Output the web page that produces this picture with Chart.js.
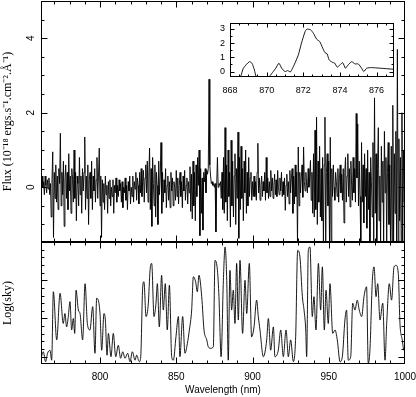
<!DOCTYPE html>
<html><head><meta charset="utf-8">
<script src="https://cdn.jsdelivr.net/npm/chart.js@4.4.0/dist/chart.umd.min.js"></script>
<style>
html,body{margin:0;padding:0;background:#fff;}
#wrap{position:relative;width:416px;height:397px;overflow:hidden;}
#main{position:absolute;left:0;top:0;}
#inset{position:absolute;left:196px;top:12px;}
</style></head><body>
<div id="wrap"><canvas id="main" width="416" height="397"></canvas><canvas id="inset" width="204" height="88"></canvas></div>
<script>
// ---------- data ----------
const fluxStart = 761, fluxStep = 0.5;   // wavelength grid of the flux spectrum (nm)
const fluxValues = [
 0.2,-0.1,0.3,0.0,0.15,-0.2,0.3,0.05,-0.15,0.2,-0.05,0.25,-0.2,0.1,-0.8,0.2,0.95,-1.35,0.4,-0.3,
 0.6,-0.4,0.3,-0.6,0.5,0.1,1.45,-0.5,0.4,-0.2,0.7,-1.05,0.2,0.6,-0.3,0.4,-0.6,0.9,-0.1,0.3,
 -0.7,0.5,0.2,-0.4,1.0,-0.3,0.4,-0.9,0.3,0.1,-0.5,0.8,-0.2,0.3,-0.7,0.5,-0.1,0.4,1.35,-0.6,
 0.3,-0.3,0.6,-1.0,0.2,0.4,-0.3,0.7,-0.6,0.3,-0.1,0.5,-0.4,0.2,0.8,-0.3,0.3,1.05,-0.5,0.3,
 -1.35,0.2,-0.4,0.1,-0.6,0.3,-0.2,0.05,-0.7,0.15,-0.3,0.2,-0.5,0.0,-0.25,0.2,-0.7,0.05,-0.15,0.25,
 -0.4,0.05,-0.25,0.2,-0.1,0.1,-0.4,0.15,-0.55,0.0,-0.15,0.25,-0.35,0.05,-0.6,0.15,-0.1,0.3,-0.45,0.0,
 -0.25,0.3,-0.4,0.15,-0.05,0.4,-0.35,0.25,0.05,-0.45,0.4,-0.15,0.5,-0.25,0.15,0.45,-0.4,0.25,0.6,-0.15,
 0.7,-0.4,0.3,1.05,-0.6,0.5,-1.05,0.8,0.1,-0.5,0.6,-0.8,0.4,0.05,-1.0,0.7,-0.2,0.3,1.2,-0.7,
 0.4,-0.4,0.2,-0.15,0.5,-0.55,0.05,0.3,-0.35,0.15,-0.55,0.4,-0.1,0.25,-0.5,0.15,0.0,-0.35,0.45,-0.25,
 0.25,-0.45,0.05,0.4,-0.25,0.15,-0.55,0.3,-0.1,0.45,-0.35,0.05,0.25,-0.45,0.15,-0.15,0.55,-0.65,0.35,-0.85,
 0.7,-0.5,0.4,-0.9,0.6,-0.25,0.8,0.05,1.0,-1.3,0.5,-0.7,0.25,-1.15,0.4,0.15,0.5,-0.15,0.45,0.35,
 0.5,2.9,0.6,0.3,0.1,0.15,0.05,0.1,0.0,0.1,-1.2,0.05,0.8,0.0,0.1,0.05,0.15,-0.3,0.4,-0.6,
 0.8,-0.7,1.6,-0.4,0.6,-0.9,1.0,-0.25,0.4,-1.07,1.26,-0.5,0.7,-0.8,0.3,0.9,-1.0,0.5,-0.3,1.48,
 -1.37,0.8,-0.6,1.1,-0.3,0.5,-0.9,0.7,-0.15,1.0,-0.7,0.4,-0.5,0.8,-0.25,0.25,0.4,-0.35,0.15,-0.25,
 0.3,-0.25,0.15,-0.35,0.4,1.18,-0.15,0.25,-0.35,0.05,0.3,-0.25,0.15,-0.1,0.4,-0.35,0.8,-0.15,0.25,-0.3,
 0.15,-0.25,0.45,-0.1,0.25,-0.3,0.05,0.35,-0.2,0.2,-0.25,0.45,0.0,-0.2,0.25,-0.1,0.4,-0.25,0.15,-0.2,
 0.25,-0.62,0.05,0.35,-0.25,0.15,-0.45,0.45,-0.15,0.25,0.5,-0.7,0.3,-0.45,0.6,-0.25,0.4,-1.47,1.08,-0.5,
 0.4,-0.15,0.25,0.6,-0.27,1.08,0.15,-0.1,0.4,0.05,-0.15,0.5,0.0,0.25,0.72,-0.35,0.4,-0.7,0.9,-0.8,
 1.53,-0.6,1.88,-1.0,0.7,-0.4,1.1,-0.8,0.5,-0.9,0.8,-1.47,0.6,1.88,-1.47,0.4,0.9,-0.5,0.7,-1.47,
 1.34,-1.47,0.5,-0.25,0.6,0.0,-0.35,0.4,0.15,-0.25,0.5,-0.4,0.25,0.6,-0.15,0.35,-0.35,0.5,-0.96,0.4,
 0.8,-0.4,0.3,0.9,-0.25,0.5,-0.53,0.7,0.05,-0.35,0.8,-0.15,0.5,-0.4,1.98,0.25,1.7,-0.5,0.7,-0.25,
 -1.47,1.2,-0.4,0.6,-0.96,0.9,-0.25,0.5,-1.1,1.0,-0.6,0.4,-1.47,0.8,0.15,-0.8,1.2,-1.47,2.4,-0.7,
 0.9,-1.47,0.5,1.6,-0.9,0.3,-1.47,1.1,-0.4,0.7,-1.47,1.5,-0.15,0.8,-1.47,0.4,1.2,-1.0,0.6,-1.47,
 1.1,-1.47,2.2,-1.47,0.9,-0.7,1.5,-1.47,3.7,-1.47,1.3,-0.9,0.8,-1.47,2.0,-1.47,1.0,-0.4,0.25,0.0
];
const skyWave = [
 761.3,762.8,764.3,765.6,767.2,768.3,769.4,771.6,773.8,775.9,
 777.0,778.1,779.2,780.3,781.4,782.5,783.4,784.3,785.8,786.9,
 788.6,790.2,791.7,793.4,795.2,796.7,797.8,800.0,801.1,802.6,
 803.5,804.6,805.5,807.2,808.7,810.3,812.0,813.5,814.9,816.4,
 818.1,819.7,821.2,823.0,824.0,825.8,826.7,828.0,828.8,830.2,
 831.7,832.8,833.9,835.4,836.7,837.6,838.9,840.4,841.5,842.8,
 844.1,845.5,847.0,848.1,849.8,851.4,852.4,854.2,855.7,857.3,
 858.6,860.1,861.2,862.7,863.8,864.9,866.7,868.2,870.0,871.0,
 872.6,874.3,875.4,877.0,878.0,879.4,880.9,882.0,883.1,884.1,
 885.2,886.3,887.4,888.5,889.6,890.7,891.8,893.5,895.1,896.2,
 897.9,899.4,901.0,902.7,903.8,904.9,907.1,909.3,910.4,911.9,
 913.7,914.7,916.9,918.5,920.2,922.0,923.5,925.0,926.8,928.3,
 929.6,931.1,932.7,933.8,934.9,935.5,936.6,937.7,939.2,940.3,
 941.6,943.2,944.7,945.8,947.1,948.2,949.7,950.8,952.6,954.1,
 955.6,957.4,958.9,960.6,961.7,962.8,964.4,965.7,967.2,968.7,
 970.0,971.6,973.1,974.8,975.9,977.0,978.6,979.7,981.0,982.1,
 983.6,985.4,986.9,988.0,989.7,991.2,992.8,994.1,995.6,996.7,
 998.2,999.3,1000.0
];
const skyLog = [
 -0.04,0.13,-0.13,0.09,0.17,-0.09,1.70,0.44,1.66,0.87,
 1.13,0.78,1.05,1.44,0.70,1.00,0.61,1.74,1.22,1.13,
 0.44,1.91,0.87,0.70,1.31,0.09,1.53,1.13,0.17,1.13,
 0.96,0.04,0.61,0.00,0.61,0.00,0.30,-0.04,0.13,-0.04,
 0.09,-0.13,0.13,-0.09,0.04,-0.13,0.00,1.83,1.96,1.05,
 1.40,2.26,2.44,1.05,1.40,1.91,0.78,2.13,1.22,1.91,
 0.70,1.87,0.00,-0.09,0.52,1.05,0.00,1.05,0.09,0.35,
 0.70,1.22,2.09,1.96,1.70,2.13,1.57,0.70,0.44,0.26,
 0.22,0.26,2.52,2.26,1.57,0.00,2.00,2.87,2.00,-0.09,
 2.26,1.22,1.74,0.87,2.44,0.96,2.52,0.61,2.00,1.13,
 2.44,0.52,0.78,1.48,1.05,0.70,0.00,0.44,1.00,0.17,
 0.78,0.00,0.17,0.70,0.00,0.70,0.00,0.44,-0.13,0.52,
 2.78,2.61,1.57,1.22,0.70,0.00,2.78,2.87,1.05,1.57,
 0.70,2.44,1.22,2.35,0.70,1.74,0.87,1.91,0.61,0.70,
 0.44,-0.13,0.00,0.96,1.22,-0.09,0.00,1.40,1.22,1.48,
 1.22,1.05,1.57,1.83,-0.17,0.17,2.00,2.35,1.57,1.91,
 0.96,1.40,-0.09,0.87,1.91,1.48,2.35,2.39,2.18,0.87,
 0.44,0.17,0.30
];
const insetWave = [868.0,868.3,868.58,868.73,869.06,869.2,869.33,869.42,869.6,869.9,
 870.15,870.36,870.5,870.67,870.82,871.0,871.15,871.3,871.5,871.73,
 871.9,872.1,872.2,872.4,872.55,872.73,872.9,873.06,873.18,873.3,
 873.41,873.58,873.72,873.85,874.0,874.15,874.3,874.45,874.64,874.82,
 875.0,875.18,875.3,875.46,875.73,876.18,876.9,877.0];
const insetFlux = [-1.2,-1.0,-0.35,0.24,0.70,0.59,0.12,-0.35,-1.0,-1.0,
 -0.35,0.0,0.24,0.59,0.24,0.0,0.07,-0.02,0.47,1.18,
 2.0,2.82,2.99,2.94,2.7,2.28,2.11,1.65,1.34,1.25,
 0.82,0.66,0.59,0.31,0.47,0.63,0.24,0.47,0.70,0.54,
 0.54,0.24,0.0,0.24,0.28,0.24,0.17,0.17];
const xTickLabels = [800,850,900,950,1000];
const fluxTickLabels = [0,2,4];
const insetXTickLabels = [868,870,872,874,876];
const insetYTickLabels = [0,1,2,3];

// ---------- helpers ----------
function range(a,b,s){const r=[];for(let v=a;v<=b+1e-9;v+=s)r.push(Math.round(v*1000)/1000);return r;}
const boxTicks = {
  id:'boxTicks',
  afterDatasetsDraw(chart, args, o){
    const ctx=chart.ctx; ctx.save(); ctx.strokeStyle='#000'; ctx.lineWidth=1;
    const xs=chart.scales[o.x];
    const line=(x1,y1,x2,y2)=>{ctx.beginPath();ctx.moveTo(x1,y1);ctx.lineTo(x2,y2);ctx.stroke();};
    o.panels.forEach(p=>{
      const ys=chart.scales[p.y];
      const L=Math.round(xs.left)+0.5,R=Math.round(xs.right)-0.5,T=Math.round(ys.top)+0.5,B=Math.round(ys.bottom)-0.5;
      o.xMinor.forEach(v=>{const px=Math.round(xs.getPixelForValue(v))+0.5;const len=o.xMajor.includes(v)?o.majLen:o.minLen;line(px,T,px,T+len);line(px,B,px,B-len);});
      p.yMinor.forEach(v=>{const py=Math.round(ys.getPixelForValue(v))+0.5;const len=p.yMajor.includes(v)?o.majLen:o.minLen;line(L,py,L+len,py);line(R,py,R-len,py);});
      ctx.strokeRect(L,T,R-L,B-T);
    });
    ctx.restore();
  }
};
const whiteArea = {
  id:'whiteArea',
  beforeDatasetsDraw(chart){const a=chart.chartArea,c=chart.ctx;c.save();c.fillStyle='#fff';c.fillRect(a.left,a.top,a.right-a.left,a.bottom-a.top);c.restore();}
};
const sans='Liberation Sans', serif='Liberation Serif';
const fixTicks = arr => s => { s.ticks = arr.map(v=>({value:v})); };
const noPad = s => { s.paddingTop=0; s.paddingBottom=0; s.paddingLeft=0; s.paddingRight=0; };

// ---------- main chart ----------
const fluxPts = fluxValues.map((v,i)=>({x:fluxStart+i*fluxStep,y:v}));
const skyPts = skyWave.map((w,i)=>({x:w,y:skyLog[i]}));
new Chart(document.getElementById('main'),{
  type:'line',
  data:{datasets:[
    {data:fluxPts,xAxisID:'x',yAxisID:'yTop',borderColor:'#000',borderWidth:0.9,pointRadius:0,tension:0},
    {data:skyPts,xAxisID:'x',yAxisID:'ySky',borderColor:'#000',borderWidth:0.9,pointRadius:0,cubicInterpolationMode:'monotone'}
  ]},
  options:{
    responsive:false,animation:false,devicePixelRatio:1,
    layout:{padding:{top:1,right:11,left:0,bottom:0}},
    plugins:{legend:{display:false},tooltip:{enabled:false},
      boxTicks:{x:'x',xMinor:range(770,990,10),xMajor:[800,850,900,950],majLen:6,minLen:3,
        panels:[{y:'yTop',yMinor:range(-1,4.5,0.5),yMajor:[0,2,4]},
                {y:'ySky',yMinor:range(0,2.8,0.2),yMajor:[0,1,2]}]}},
    scales:{
      x:{type:'linear',position:'bottom',min:761.3,max:1000,
        afterBuildTicks:fixTicks(xTickLabels),afterFit:s=>{s.height=33;noPad(s);},
        grid:{display:false,drawTicks:false},border:{display:false},
        ticks:{padding:7,font:{family:sans,size:10},color:'#000',maxRotation:0,autoSkip:false,callback:v=>String(v)},
        title:{display:true,text:'Wavelength (nm)',font:{family:sans,size:10},color:'#000',padding:{top:0,bottom:1}}},
      ySky:{type:'linear',position:'left',stack:'p',stackWeight:122,min:-0.19,max:3.0,
        afterFit:s=>{s.width=41;noPad(s);},
        grid:{display:false,drawTicks:false},border:{display:false},
        ticks:{display:false},
        title:{display:true,text:'Log(sky)',font:{family:serif,size:12},color:'#000',padding:{top:1,bottom:0}}},
      yTop:{type:'linear',position:'left',stack:'p',stackWeight:241,min:-1.47,max:5,
        afterBuildTicks:fixTicks(fluxTickLabels),afterFit:s=>{s.width=41;noPad(s);},
        grid:{display:false,drawTicks:false},border:{display:false},
        ticks:{minRotation:90,maxRotation:90,crossAlign:'center',padding:7,font:{family:sans,size:10},color:'#000',callback:v=>String(v)},
        title:{display:true,text:'Flux (10⁻¹⁸ ergs.s⁻¹.cm⁻².Å⁻¹)',font:{family:serif,size:12},color:'#000',padding:{top:1,bottom:0}}}
    }
  },
  plugins:[boxTicks]
});

// ---------- inset ----------
const insetPts = insetWave.map((w,i)=>({x:w,y:insetFlux[i]}));
new Chart(document.getElementById('inset'),{
  type:'line',
  data:{datasets:[{data:insetPts,borderColor:'#000',borderWidth:0.9,pointRadius:0,tension:0.2}]},
  options:{
    responsive:false,animation:false,devicePixelRatio:1,
    layout:{padding:{top:11,right:6,left:0,bottom:0}},
    plugins:{legend:{display:false},tooltip:{enabled:false},
      boxTicks:{x:'x',xMinor:range(868.5,876.5,0.5),xMajor:[870,872,874,876],majLen:4,minLen:2,
        panels:[{y:'y',yMinor:range(0,3,0.5),yMajor:[0,1,2,3]}]}},
    scales:{
      x:{type:'linear',min:868,max:876.95,
        afterBuildTicks:fixTicks(insetXTickLabels),afterFit:s=>{s.height=23;noPad(s);},
        grid:{display:false,drawTicks:false},border:{display:false},
        ticks:{padding:8,font:{family:sans,size:9},color:'#000',maxRotation:0,autoSkip:false,callback:v=>String(v)}},
      y:{type:'linear',min:-0.38,max:3.42,
        afterBuildTicks:fixTicks(insetYTickLabels),afterFit:s=>{s.width=34;noPad(s);},
        grid:{display:false,drawTicks:false},border:{display:false},
        ticks:{padding:5,font:{family:sans,size:9},color:'#000',callback:v=>String(v)}}
    }
  },
  plugins:[whiteArea,boxTicks]
});
</script>
</body></html>
